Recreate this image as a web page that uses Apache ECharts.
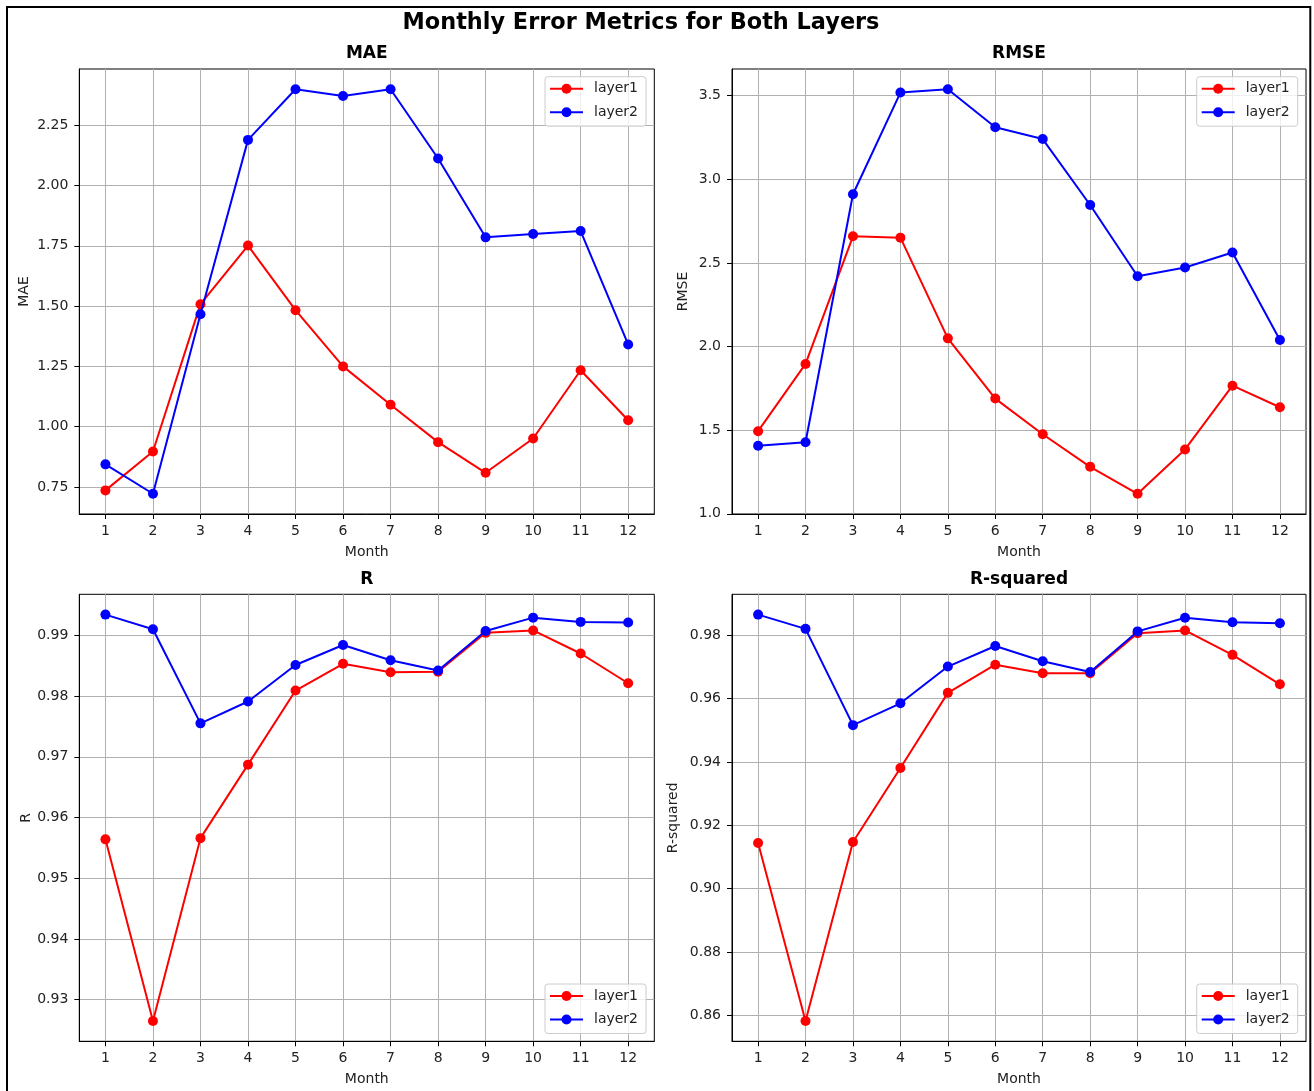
<!DOCTYPE html>
<html><head><meta charset="utf-8">
<script src="https://cdn.jsdelivr.net/npm/echarts@6/dist/echarts.min.js"></script>
<style>html,body{margin:0;padding:0;background:#fff}#c{width:1314px;height:1091px}</style>
</head><body><div id="c"></div>
<script>
// ---- data ----
const months = [1, 2, 3, 4, 5, 6, 7, 8, 9, 10, 11, 12];
const seriesNames = ['layer1', 'layer2'];
const panelTitles = ['MAE', 'RMSE', 'R', 'R-squared'];
const mainTitle = 'Monthly Error Metrics for Both Layers';
const xAxisName = 'Month';

const maeLayer1 = [0.736, 0.897, 1.508, 1.751, 1.483, 1.250, 1.091, 0.936, 0.809, 0.951, 1.234, 1.027];
const maeLayer2 = [0.844, 0.722, 1.466, 2.189, 2.399, 2.371, 2.399, 2.112, 1.785, 1.799, 1.811, 1.341];
const rmseLayer1 = [1.494, 1.896, 2.659, 2.651, 2.049, 1.689, 1.476, 1.281, 1.120, 1.385, 1.766, 1.637];
const rmseLayer2 = [1.407, 1.428, 2.910, 3.518, 3.538, 3.311, 3.240, 2.846, 2.420, 2.472, 2.562, 2.039];
const rLayer1 = [0.9564, 0.9265, 0.9566, 0.9687, 0.9809, 0.9853, 0.9839, 0.9840, 0.9904, 0.9908, 0.9870, 0.9821];
const rLayer2 = [0.9934, 0.9910, 0.9755, 0.9791, 0.9851, 0.9884, 0.9859, 0.9842, 0.9907, 0.9929, 0.9922, 0.9921];
const r2Layer1 = [0.9144, 0.8582, 0.9147, 0.9381, 0.9618, 0.9707, 0.9680, 0.9680, 0.9806, 0.9815, 0.9738, 0.9645];
const r2Layer2 = [0.9865, 0.9820, 0.9516, 0.9585, 0.9701, 0.9766, 0.9718, 0.9684, 0.9812, 0.9855, 0.9841, 0.9838];

const maeTicks = [0.75, 1.00, 1.25, 1.50, 1.75, 2.00, 2.25];
const rmseTicks = [1.0, 1.5, 2.0, 2.5, 3.0, 3.5];
const rTicks = [0.93, 0.94, 0.95, 0.96, 0.97, 0.98, 0.99];
const r2Ticks = [0.86, 0.88, 0.90, 0.92, 0.94, 0.96, 0.98];

// ---- layout / style ----
const FONT = 'DejaVu Sans';
const COLORS = ['#ff0000', '#0000ff'];
const panels = [
  { grid: { left: 79.3, top: 69, width: 575, height: 445 }, y: [maeLayer1, maeLayer2], ticks: maeTicks, step: 0.25, dec: 2, nameGap: 48, legend: { left: 545, top: 76.7 } },
  { grid: { left: 732, top: 69, width: 574, height: 445 }, y: [rmseLayer1, rmseLayer2], ticks: rmseTicks, step: 0.5, dec: 1, nameGap: 42, legend: { left: 1196.7, top: 76.7 } },
  { grid: { left: 79.3, top: 594.3, width: 575, height: 447 }, y: [rLayer1, rLayer2], ticks: rTicks, step: 0.01, dec: 2, nameGap: 46, legend: { left: 545, top: 984 } },
  { grid: { left: 732, top: 594.3, width: 574, height: 447 }, y: [r2Layer1, r2Layer2], ticks: r2Ticks, step: 0.02, dec: 2, nameGap: 52, legend: { left: 1196.7, top: 984 } }
];

const xSpan = months[months.length - 1] - months[0];
const grids = [], xAxes = [], yAxes = [], series = [], legends = [], graphics = [];

panels.forEach((p, i) => {
  grids.push(Object.assign({ show: true, borderColor: '#000', borderWidth: 1, backgroundColor: 'transparent', containLabel: false }, p.grid));
  xAxes.push({
    type: 'value', gridIndex: i,
    min: months[0] - 0.05 * xSpan, max: months[months.length - 1] + 0.05 * xSpan,
    minInterval: 1, maxInterval: 1,
    name: xAxisName, nameLocation: 'middle', nameGap: 31.5,
    nameTextStyle: { fontFamily: FONT, fontSize: 14, color: '#222' },
    axisLine: { show: true, onZero: false, lineStyle: { color: '#000', width: 1 } },
    axisTick: { show: true, length: 5, customValues: months, lineStyle: { color: '#000', width: 1 } },
    axisLabel: { customValues: months, margin: 10.5, fontFamily: FONT, fontSize: 14, color: '#222' },
    splitLine: { show: true, customValues: months, lineStyle: { color: '#b0b0b0', width: 1 } }
  });
  yAxes.push({
    type: 'value', gridIndex: i,
    min: v => v.min - 0.05 * (v.max - v.min),
    max: v => v.max + 0.05 * (v.max - v.min),
    minInterval: p.step, maxInterval: p.step,
    name: panelTitles[i], nameLocation: 'middle', nameGap: p.nameGap,
    nameTextStyle: { fontFamily: FONT, fontSize: 14, color: '#222' },
    axisLine: { show: true, onZero: false, lineStyle: { color: '#000', width: 1 } },
    axisTick: { show: true, length: 5, customValues: p.ticks, lineStyle: { color: '#000', width: 1 } },
    axisLabel: { customValues: p.ticks, margin: 11, fontFamily: FONT, fontSize: 14, color: '#222',
      formatter: (v) => Number(v).toFixed(p.dec) },
    splitLine: { show: true, customValues: p.ticks, lineStyle: { color: '#b0b0b0', width: 1 } }
  });
  p.y.forEach((vals, k) => {
    series.push({
      type: 'line', name: seriesNames[k], xAxisIndex: i, yAxisIndex: i,
      data: months.map((m, j) => [m, vals[j]]),
      symbol: 'circle', symbolSize: 10, showSymbol: true,
      lineStyle: { color: COLORS[k], width: 2 },
      itemStyle: { color: COLORS[k] },
      emphasis: { disabled: true }, z: 3 + k
    });
  });
  legends.push({
    data: seriesNames, orient: 'vertical', left: p.legend.left, top: p.legend.top,
    itemWidth: 33, itemHeight: 12.5, itemGap: 9.5, padding: [5, 8, 7, 4],
    backgroundColor: 'rgba(255,255,255,0.8)', borderColor: '#cccccc', borderWidth: 1, borderRadius: 3,
    textStyle: { fontFamily: FONT, fontSize: 14, color: '#222', padding: [0, 0, 0, 6] },
    selectedMode: false, z: 10
  });
  const g = p.grid;
  graphics.push({
    type: 'text', x: g.left + g.width / 2, y: g.top - 15, silent: true,
    style: { text: panelTitles[i], fontFamily: FONT, fontSize: 17, fontWeight: 'bold', fill: '#000', align: 'center', verticalAlign: 'middle' }
  });
});

graphics.push({
  type: 'text', x: 641, y: 23, silent: true,
  style: { text: mainTitle, fontFamily: FONT, fontSize: 22.4, fontWeight: 'bold', fill: '#000', align: 'center', verticalAlign: 'middle' }
});
graphics.push({
  type: 'rect', silent: true, z: 100,
  shape: { x: 7, y: 7, width: 1303.3, height: 1110 },
  style: { fill: 'none', stroke: '#000', lineWidth: 2 }
});

const chart = echarts.init(document.getElementById('c'), null, { renderer: 'canvas' });
chart.setOption({
  backgroundColor: '#fff',
  animation: false,
  grid: grids, xAxis: xAxes, yAxis: yAxes, series: series, legend: legends,
  graphic: graphics
});
</script>
</body></html>
